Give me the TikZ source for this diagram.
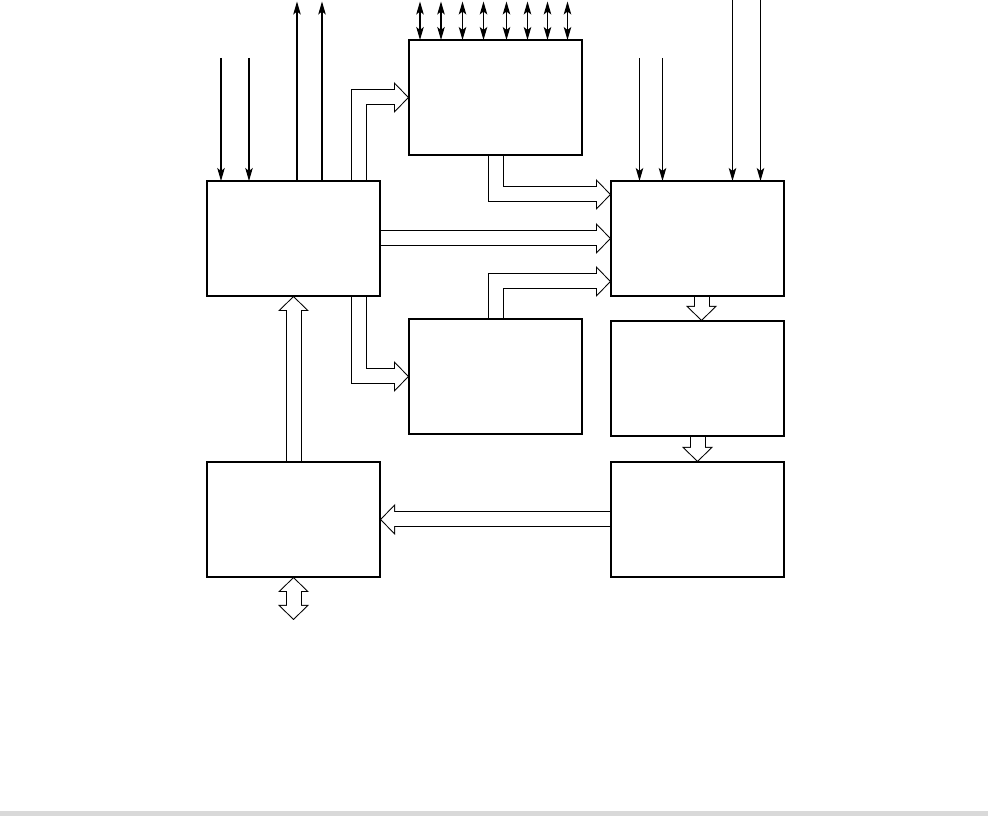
\documentclass[tikz,border=0pt]{standalone}
\usepackage{xcolor}
\usetikzlibrary{arrows.meta, positioning, backgrounds}
\definecolor{bargray}{RGB}{217,217,217}

\begin{document}
\begin{tikzpicture}[
		block/.style={draw, line width=1.1pt, minimum width=3.46cm,
			minimum height=2.3cm, inner sep=0pt, outer sep=0pt},
		sig/.style={-{Stealth[length=0.26cm, width=0.15cm, inset=0.06cm]}, line width=0.6pt},
		bisig/.style={{Stealth[length=0.26cm, width=0.15cm, inset=0.06cm]}-{Stealth[length=0.26cm, width=0.15cm, inset=0.06cm]}, line width=0.6pt},
		bus/.style={draw=white, line width=0.28cm, shorten >=0.028cm,
			-{Triangle[line width=0pt, length=0.252cm, width=0.52cm]},
			preaction={draw=black, line width=0.32cm, shorten >=0pt,
				-{Triangle[line width=0pt, length=0.3cm, width=0.62cm]}},
			postaction={draw=white, line width=0.28cm, shorten >=0.22cm, -}},
		bibus/.style={draw=white, line width=0.28cm, shorten >=0.028cm, shorten <=0.028cm,
			{Triangle[line width=0pt, length=0.252cm, width=0.52cm]}-{Triangle[line width=0pt, length=0.252cm, width=0.52cm]},
			preaction={draw=black, line width=0.32cm, shorten >=0pt, shorten <=0pt,
				{Triangle[line width=0pt, length=0.3cm, width=0.62cm]}-{Triangle[line width=0pt, length=0.3cm, width=0.62cm]}},
			postaction={draw=white, line width=0.28cm, shorten >=0.22cm, shorten <=0.22cm, -}}
	]
		\useasboundingbox (0,0) rectangle (19.76,-16.32);
		\fill[bargray] (0,-16.22) rectangle (19.76,-16.32);

		% blocks
		\node[block, anchor=north west] (a) at (4.14,-3.62) {};
		\node[block, above right=0.52cm and 0.58cm of a] (b) {};
		\node[block, right=4.62cm of a] (c) {};
		\node[block, below right=0.46cm and 0.58cm of a] (d) {};
		\node[block, below=0.5cm of c] (e) {};
		\node[block, below=3.32cm of a] (f) {};
		\node[block, below=3.32cm of c] (g) {};

		\begin{scope}[on background layer]
			% single lines
			\foreach \dx [count=\i] in {0.28,0.84} {
				\coordinate (a-in\i) at ([xshift=\dx cm, yshift=2.46cm]a.north west);
				\draw[sig] (a-in\i) -- (a-in\i |- a.north);
			}
			\foreach \dx [count=\i] in {1.80,2.30} {
				\coordinate (a-out\i) at ([xshift=\dx cm, yshift=3.59cm]a.north west);
				\draw[sig] (a-out\i |- a.north) -- (a-out\i);
			}
			\foreach \dx [count=\i] in {0.22,0.64,1.07,1.49,1.95,2.37,2.77,3.17} {
				\coordinate (b-io\i) at ([xshift=\dx cm, yshift=0.77cm]b.north west);
				\draw[bisig] (b-io\i |- b.north) -- (b-io\i);
			}
			\foreach \dx [count=\i] in {0.57,1.03} {
				\coordinate (c-in\i) at ([xshift=\dx cm, yshift=2.46cm]c.north west);
				\draw[sig] (c-in\i) -- (c-in\i |- c.north);
			}
			\foreach \dx [count=\i] in {2.43,2.99} {
				\coordinate (c-ext\i) at ([xshift=\dx cm, yshift=3.62cm]c.north west);
				\draw[sig] (c-ext\i) -- (c-ext\i |- c.north);
			}

			% buses
			\draw[bus] ([xshift=3.03cm]a.north west) |- (b.west);
			\draw[bus] (b.south) |- ([yshift=-0.27cm]c.north west);
			\draw[bus] (a.east) -- (c.west);
			\draw[bus] (d.north) |- ([yshift=0.29cm]c.south west);
			\draw[bus] ([xshift=3.03cm]a.south west) |- (d.west);
			\draw[bus] (f.north) -- (a.south);
			\draw[bus] ([xshift=0.08cm]c.south) -- ([xshift=0.08cm]e.north);
			\draw[bus] (e.south) -- (g.north);
			\draw[bus] (g.west) -- (f.east);
			\coordinate (f-io) at ([yshift=-0.86cm]f.south);
			\draw[bibus] (f.south) -- (f-io);
		\end{scope}
	\end{tikzpicture}
\end{document}
